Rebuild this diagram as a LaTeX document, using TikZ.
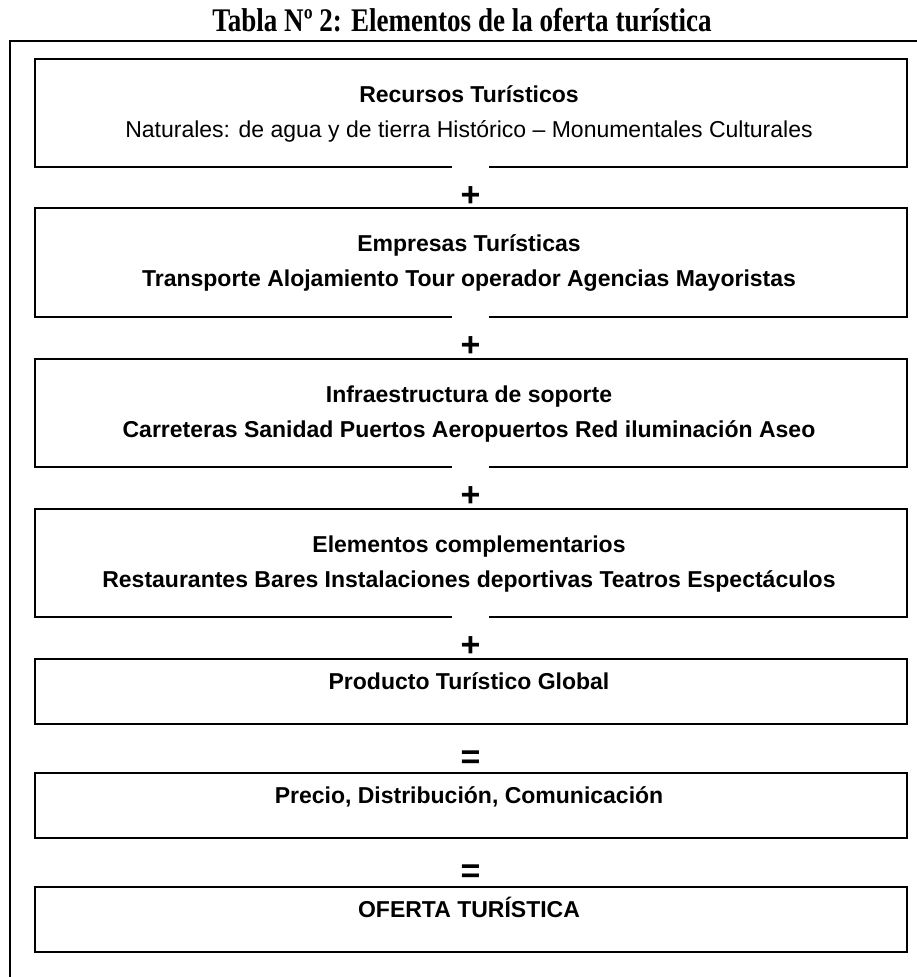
\documentclass[tikz,border=0pt]{standalone}
\usepackage{fontspec}
\usepackage{graphicx}
\setmainfont{Liberation Sans}
\newfontfamily\titlefont{Liberation Serif}
\begin{document}
\begin{tikzpicture}[x=1pt,y=-1pt,
  frame/.style={line width=1.5pt},
  box/.style={draw, line width=1.8pt, rectangle, minimum width=872pt, inner sep=0pt},
  head/.style={font=\bfseries\fontsize{23}{25}\selectfont, inner sep=0pt, anchor=base},
  body/.style={font=\fontsize{23}{25}\selectfont, inner sep=0pt, anchor=base},
  bodyb/.style={font=\bfseries\fontsize{23}{25}\selectfont, inner sep=0pt, anchor=base},
  op/.style={font=\bfseries\fontsize{34}{34}\selectfont, inner sep=0pt},
  gap/.style={op, fill=white, minimum width=37pt, minimum height=62pt}]
\useasboundingbox (0,0) rectangle (917,977);
% title
\node[font=\titlefont\bfseries\fontsize{33}{36}\selectfont, inner sep=0pt, anchor=base] (title) at (462,31) {\scalebox{0.82}[1]{Tabla Nº 2: Elementos de la oferta turística}};
% outer frame
\coordinate (fr) at (917,41);
\coordinate (fl) at (10,977);
\draw[frame] (fr) -- (10,41) -- (fl);
% box 1
\node[box, minimum height=108pt] (b1) at (471,113) {};
\node[head] (t1) at (469,102.5) {Recursos Turísticos};
\node[body] (s1) at (469,137.5) {Naturales: de agua y de tierra Histórico – Monumentales Culturales};
\node[gap] (p1) at (470.5,196.5) {+};
% box 2
\node[box, minimum height=109pt] (b2) at (471,262.5) {};
\node[head] (t2) at (469,251.5) {Empresas Turísticas};
\node[bodyb] (s2) at (469,286.5) {Transporte Alojamiento Tour operador Agencias Mayoristas};
\node[gap] (p2) at (470.5,346.5) {+};
% box 3
\node[box, minimum height=108pt] (b3) at (471,413) {};
\node[head] (t3) at (469,402.5) {Infraestructura de soporte};
\node[bodyb] (s3) at (469,437.5) {Carreteras Sanidad Puertos Aeropuertos Red iluminación Aseo};
\node[gap] (p3) at (470.5,496.5) {+};
% box 4
\node[box, minimum height=108pt] (b4) at (471,563) {};
\node[head] (t4) at (469,552.5) {Elementos complementarios};
\node[bodyb] (s4) at (469,587.5) {Restaurantes Bares Instalaciones deportivas Teatros Espectáculos};
\node[gap] (p4) at (470.5,646.5) {+};
% box 5
\node[box, minimum height=65pt] (b5) at (471,691.5) {};
\node[head] (t5) at (469,689) {Producto Turístico Global};
\node[op] (e1) at (470.5,760) {=};
% box 6
\node[box, minimum height=65pt] (b6) at (471,805.5) {};
\node[head] (t6) at (469,803) {Precio, Distribución, Comunicación};
\node[op] (e2) at (470.5,874) {=};
% box 7
\node[box, minimum height=65pt] (b7) at (471,919.5) {};
\node[head] (t7) at (469,917) {OFERTA TURÍSTICA};
\end{tikzpicture}
\end{document}
